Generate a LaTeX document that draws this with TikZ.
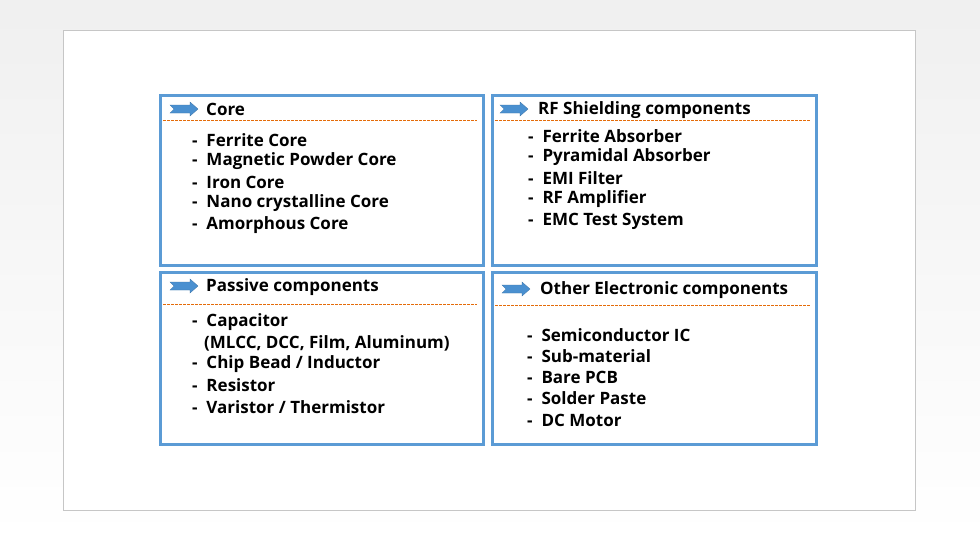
\documentclass[tikz,border=0pt]{standalone}
\usepackage{fontspec}
\setmainfont{Open Sans}
\definecolor{bx}{HTML}{5B9BD5}
\definecolor{ar}{HTML}{4A90D0}
\definecolor{ds}{HTML}{E46C0A}
\begin{document}
\begin{tikzpicture}[x=1pt,y=-1pt,
  panel/.style={draw=bx,line width=2.5pt},
  sep/.style={draw=ds,dashed,line width=0.8pt,dash pattern=on 2.5pt off 1.5pt},
  txt/.style={anchor=west,inner sep=0pt,font=\fontsize{17}{19}\selectfont\bfseries},
  hd/.style={txt}]
\useasboundingbox (0,0) rectangle (980,539);
\shade[top color=gray!12,bottom color=white] (0,0) rectangle (980,539);
\node[draw=gray!45,fill=white,line width=0.6pt,minimum width=852,minimum height=480,anchor=north west,inner sep=0pt] (page) at (63,30) {};
\newcommand{\chev}[3]{\fill[ar,draw=ar!80!black,line width=0.3pt] (#1,#2-4) -- (#1+20,#2-4) -- (#1+20,#2-7) -- (#1+28,#2) -- (#1+20,#2+7) -- (#1+20,#2+4) -- (#1,#2+4) -- (#1+4,#2) -- cycle;}
% boxes
\node[panel,minimum width=323,minimum height=170,anchor=north west,inner sep=0pt] (b1) at (159,94) {};
\node[panel,minimum width=324,minimum height=170,anchor=north west,inner sep=0pt] (b2) at (491,94) {};
\node[panel,minimum width=323,minimum height=172,anchor=north west,inner sep=0pt] (b3) at (159,271) {};
\node[panel,minimum width=324,minimum height=172,anchor=north west,inner sep=0pt] (b4) at (491,271) {};
% separators
\draw[sep] (163,120) -- (477,120);
\draw[sep] (495,120) -- (810,120);
\draw[sep] (163,304) -- (477,304);
\draw[sep] (495,305) -- (810,305);
% arrows
\chev{170}{109}{}
\chev{500}{109}{}
\chev{170}{286}{}
\chev{502}{289}{}
% headers
\node[hd] (h1) at (206,109) {Core};
\node[hd] (h2) at (538,110) {RF Shielding components};
\node[hd] (h3) at (206,287) {Passive components};
\node[hd] (h4) at (540,290) {Other Electronic components};
% items
\node[txt] (t11) at (192,140) {-\ \ Ferrite Core};
\node[txt] (t12) at (192,161) {-\ \ Magnetic Powder Core};
\node[txt] (t13) at (192,182) {-\ \ Iron Core};
\node[txt] (t14) at (192,203) {-\ \ Nano crystalline Core};
\node[txt] (t15) at (192,225) {-\ \ Amorphous Core};
\node[txt] (t21) at (528,136) {-\ \ Ferrite Absorber};
\node[txt] (t22) at (528,157) {-\ \ Pyramidal Absorber};
\node[txt] (t23) at (528,178) {-\ \ EMI Filter};
\node[txt] (t24) at (528,199) {-\ \ RF Amplifier};
\node[txt] (t25) at (528,221) {-\ \ EMC Test System};
\node[txt] (t31) at (192,322) {-\ \ Capacitor};
\node[txt] (t32) at (204,343) {(MLCC, DCC, Film, Aluminum)};
\node[txt] (t33) at (192,364) {-\ \ Chip Bead / Inductor};
\node[txt] (t34) at (192,385) {-\ \ Resistor};
\node[txt] (t35) at (192,407) {-\ \ Varistor / Thermistor};
\node[txt] (t41) at (527,335) {-\ \ Semiconductor IC};
\node[txt] (t42) at (527,356) {-\ \ Sub-material};
\node[txt] (t43) at (527,377) {-\ \ Bare PCB};
\node[txt] (t44) at (527,398) {-\ \ Solder Paste};
\node[txt] (t45) at (527,420) {-\ \ DC Motor};
\end{tikzpicture}
\end{document}
